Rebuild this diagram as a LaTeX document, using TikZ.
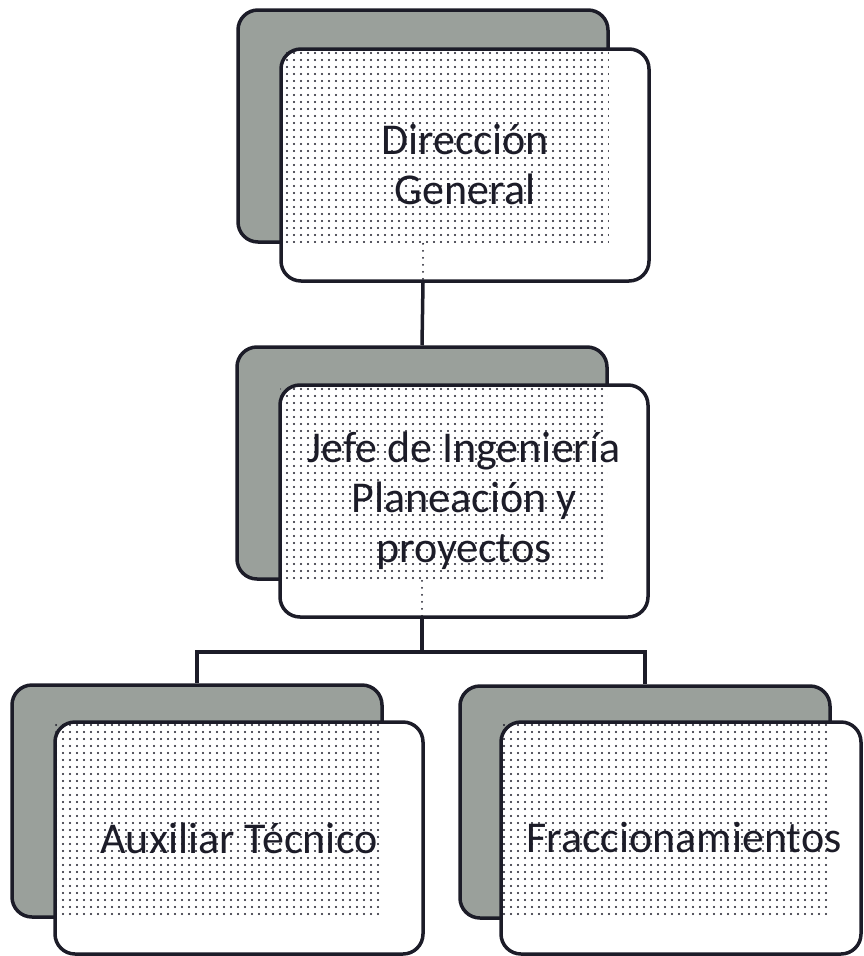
\documentclass[tikz,border=0pt]{standalone}
\usepackage{fontspec}
\setmainfont{Carlito}
\usetikzlibrary{patterns.meta}
\definecolor{shade}{RGB}{154,160,155}
\definecolor{ink}{RGB}{28,28,40}
\tikzset{
  backbox/.style={draw=ink, line width=3.5pt, rounded corners=20pt, fill=shade,
    minimum width=370pt, minimum height=232pt, inner sep=0pt},
  frontbox/.style={draw=ink, line width=3.5pt, rounded corners=20pt, fill=white,
    minimum width=368pt, minimum height=232pt, inner sep=0pt},
  boxtext/.style={align=center, inner sep=0pt, text=ink, font=\fontsize{44}{50}\selectfont},
  link/.style={draw=ink, line width=3.5pt},
  dotfill/.style={pattern={Dots[distance=7pt, radius=1.05pt]}, pattern color=ink},
  dotline/.style={draw=ink, line width=2pt, line cap=round, dash pattern=on 0pt off 7pt},
}
\begin{document}
\begin{tikzpicture}[x=1pt, y=-1pt]
\useasboundingbox (0,0) rectangle (863,956);
% top group
\node[backbox] (topback) at (423,126) {};
\node[frontbox] (topfront) at (465,165) {};
\fill[dotfill] ([shift={(2pt,-2pt)}]topfront.north west) rectangle ([shift={(-1pt,1pt)}]topback.south east);
\draw[dotline] (topback.south) -- (topback.center |- topfront.south);
\node[boxtext] (toptext) at (topfront.center) {Dirección\\General};
% middle group
\node[backbox] (midback) at (422,463) {};
\node[frontbox] (midfront) at (464,501) {};
\fill[dotfill] ([shift={(2pt,-2pt)}]midfront.north west) rectangle ([shift={(-1pt,1pt)}]midback.south east);
\draw[dotline] (midback.south) -- (midback.center |- midfront.south);
\node[boxtext] (midtext) at (midfront.center) {Jefe de Ingeniería\\Planeación y\\proyectos};
% left group
\node[backbox] (lback) at (197,801) {};
\node[frontbox] (lfront) at (239,838) {};
\fill[dotfill] ([shift={(2pt,-2pt)}]lfront.north west) rectangle ([shift={(-1pt,1pt)}]lback.south east);
\node[boxtext] (ltext) at (lfront.center) {Auxiliar Técnico};
% right group
\node[backbox] (rback) at (645,802) {};
\node[frontbox, minimum width=360pt] (rfront) at (681,838) {};
\fill[dotfill] ([shift={(2pt,-2pt)}]rfront.north west) rectangle ([shift={(-1pt,1pt)}]rback.south east);
\node[boxtext] (rtext) at ([xshift=3pt]rfront.center) {Fraccionamientos};
% connectors
\coordinate (hub) at (422,652);
\draw[link] (topback.center |- topfront.south) -- (midback.north);
\draw[link] (midback.center |- midfront.south) -- (hub);
\draw[link] (lback.north) |- (hub) -| (rback.north);
\end{tikzpicture}
\end{document}
